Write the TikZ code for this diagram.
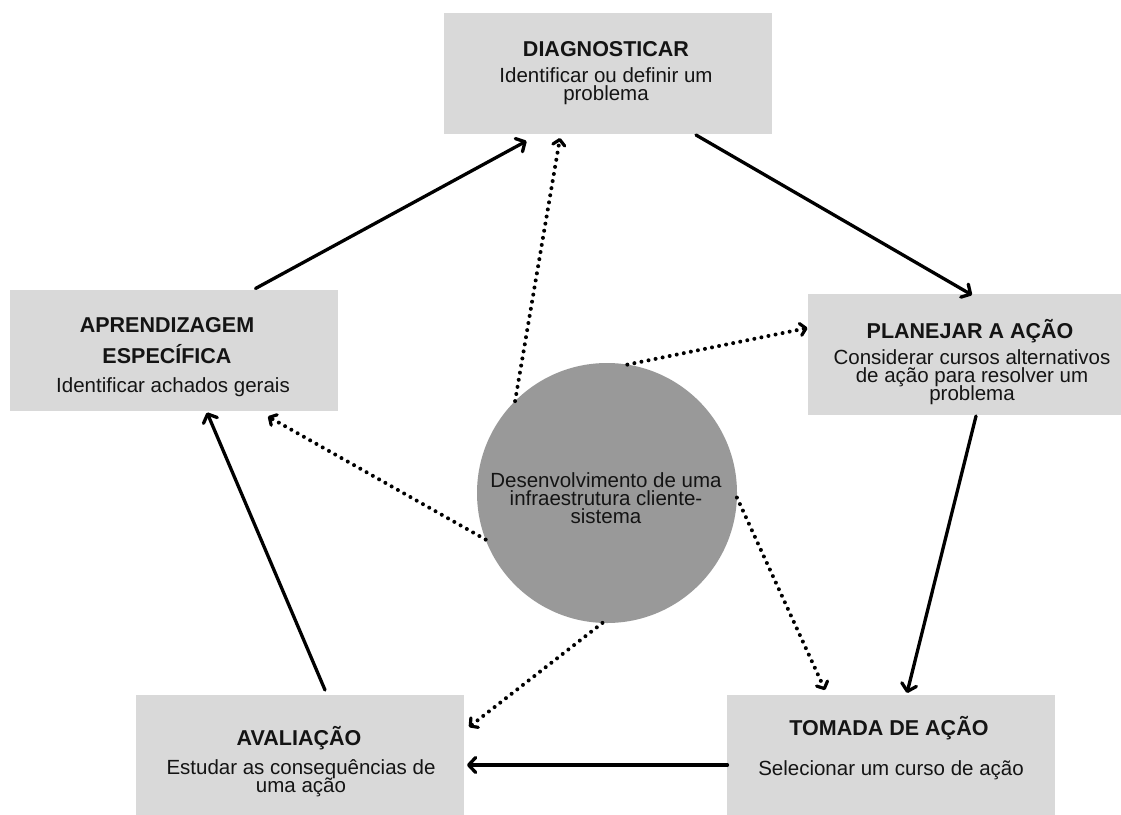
\documentclass[tikz,border=0pt]{standalone}
\usepackage{fontspec}
\setmainfont{Liberation Sans}
\usetikzlibrary{arrows.meta,calc}
\definecolor{boxgray}{HTML}{D9D9D9}
\definecolor{circgray}{HTML}{999999}
\definecolor{ink}{HTML}{141414}
\newcommand{\tightlines}{\lineskiplimit=-60pt\relax\lineskip=0pt\relax}
\begin{document}
\begin{tikzpicture}[x=1pt,y=-1pt,
  box/.style={rectangle,fill=boxgray,draw=none,inner sep=0,outer sep=0,minimum width=328pt,minimum height=121pt},
  hub/.style={circle,fill=circgray,draw=none,inner sep=0,outer sep=0,minimum size=260pt},
  title/.style={anchor=base,inner sep=0,text=ink,text width=310pt,align=flush center,font=\fontsize{21.5}{31}\selectfont\bfseries,execute at begin node=\tightlines},
  body/.style={anchor=base,inner sep=0,text=ink,text width=310pt,align=flush center,font=\fontsize{20.5}{18}\selectfont,execute at begin node=\tightlines},
  flow/.style={draw=black,line width=3.3pt,line cap=round,-{Straight Barb[length=7pt,width=15pt,round]}},
  dots/.style={draw=black,line width=4pt,line cap=round,dash pattern=on 0pt off 7.2pt,-{Straight Barb[length=5.5pt,width=12pt,round,line width=3.2pt]}}]
\useasboundingbox (0,0) rectangle (1121,814);
\clip (0,0) rectangle (1121,814);
\fill[white] (0,0) rectangle (1121,814);

% boxes
\node[box] (diag) at (607.5,73.5) {};
\node[box] (aprend) at (173.5,350) {};
\node[box] (plan) at (971.5,354.5) {};
\node[box] (aval) at (300,755.5) {};
\node[box] (toma) at (890.5,755.5) {};
\node[hub] (circ) at (607,493) {};

% texts
\node[title] (diagT) at (606,56) {DIAGNOSTICAR};
\node[body] (diagA) at (606,82) {Identificar ou definir um\\problema};

\node[title] (aprT) at (167,332) {APRENDIZAGEM\\ESPECÍFICA};
\node[body] (aprA) at (173,392) {Identificar achados gerais};

\node[title] (planT) at (970,338) {PLANEJAR A AÇÃO};
\node[body] (planA) at (972,364) {Considerar cursos alternativos\\de ação para resolver um\\problema};

\node[title] (avalT) at (299,745) {AVALIAÇÃO};
\node[body] (avalA) at (301,774) {Estudar as consequências de\\uma ação};

\node[title] (tomaT) at (889,735) {TOMADA DE AÇÃO};
\node[body] (tomaA) at (891,775) {Selecionar um curso de ação};

\node[body] (circA) at (606,487) {Desenvolvimento de uma\\infraestrutura cliente-\\sistema};

% cycle arrows
\draw[flow] ($(aprend.north)+(82,-1)$) -- ($(diag.south)+(-81,7)$);
\draw[flow] ($(diag.south)+(88.5,1)$) -- ($(plan.north)+(0.5,1)$);
\draw[flow] ($(plan.south)+(4.5,1)$) -- ($(toma.north)+(16.5,-2)$);
\draw[flow] ($(toma.west)+(1,9.5)$) -- ($(aval.east)+(3,9.5)$);
\draw[flow] ($(aval.north)+(25,-5)$) -- ($(aprend.south)+(33.5,2)$);

% dotted arrows from hub
\draw[dots] (circ.135) -- ($(diag.south)+(-47.5,4)$);
\draw[dots] (circ.81) -- ($(plan.west)+(0,-26.5)$);
\draw[dots] (circ.-2) -- ($(toma.north)+(-65.5,-5)$);
\draw[dots] (circ.-92) -- ($(aval.east)+(5,-28.5)$);
\draw[dots] (circ.201) -- ($(aprend.south)+(94.5,6)$);
\end{tikzpicture}
\end{document}
